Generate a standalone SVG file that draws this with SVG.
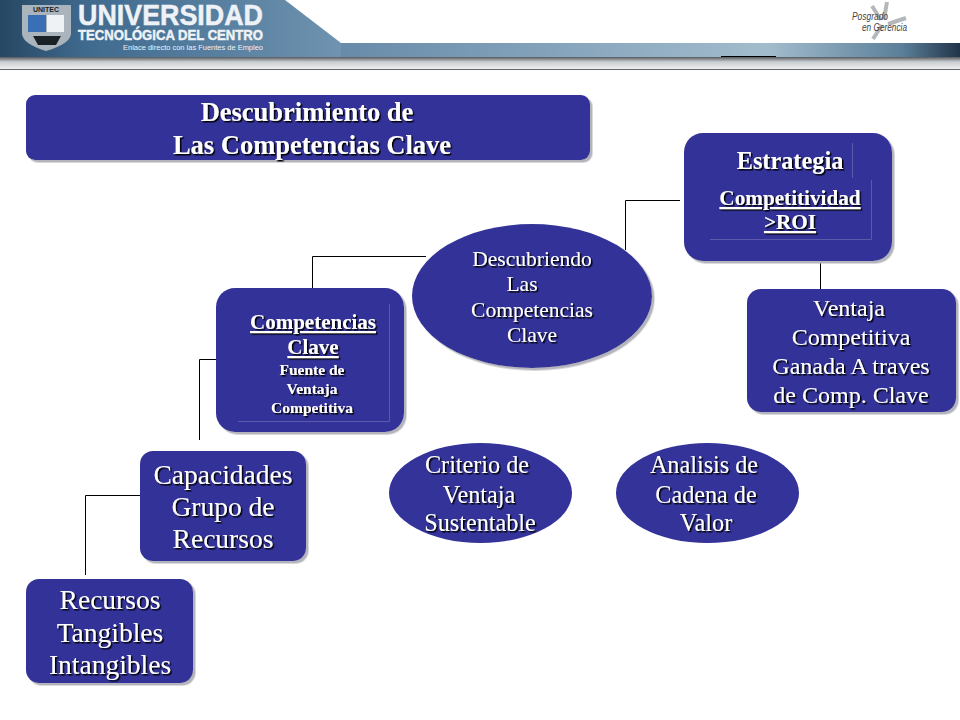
<svg xmlns="http://www.w3.org/2000/svg" width="960" height="720" viewBox="0 0 960 720">
<style>
.n{fill:#333399}
.t{font-family:"Liberation Serif","Times New Roman",serif;fill:#fff;text-anchor:middle;filter:url(#ts)}
.b{font-weight:bold}
.u{text-decoration:underline}
.c{fill:none;stroke:#000;stroke-width:1}
.i{fill:none;stroke:#5a5aa8;stroke-width:1}
.h{font-family:"Liberation Sans",Arial,sans-serif;fill:#eef2f6;font-weight:bold;stroke:#eef2f6;stroke-width:.5}
.p{font-family:"Liberation Sans",Arial,sans-serif;font-size:11px;font-style:italic;fill:#444}
.s{fill:none;stroke:#b4b8bb;stroke-width:4}
</style>
<defs>
<filter id="ds" x="-10%" y="-10%" width="125%" height="125%"><feDropShadow dx="2.500" dy="2.500" stdDeviation="0.700" flood-color="#b4b4bc"/></filter>
<filter id="ts" x="-10%" y="-20%" width="125%" height="150%"><feDropShadow dx="1.500" dy="1.500" stdDeviation="0.100" flood-color="#000"/></filter>
<linearGradient id="band" x1="0" x2="1" y1="0" y2="0">
<stop offset="0" stop-color="#26455f"/><stop offset="0.12" stop-color="#4a7092"/><stop offset="0.4" stop-color="#6d90ad"/><stop offset="0.8" stop-color="#a3bccd"/><stop offset="0.94" stop-color="#5b7f99"/><stop offset="1" stop-color="#203448"/>
</linearGradient>
<linearGradient id="under" x1="0" x2="0" y1="0" y2="1">
<stop offset="0" stop-color="#55585c"/><stop offset="0.4" stop-color="#c9cccf"/><stop offset="1" stop-color="#eef0f1"/>
</linearGradient>
<linearGradient id="head" x1="0" x2="1" y1="0" y2="0">
<stop offset="0" stop-color="#274763"/><stop offset="0.25" stop-color="#3f6a8e"/><stop offset="1" stop-color="#6f93b0"/>
</linearGradient>
</defs>
<rect width="960" height="720" fill="#fff"/>
<g id="header">
<rect x="0" y="57" width="960" height="12" fill="url(#under)"/>
<rect x="0" y="69" width="960" height="1" fill="#60666c"/>
<rect x="0" y="43" width="960" height="14" fill="url(#band)"/>
<path d="M0 0H285L341 43V57H0Z" fill="url(#head)"/>
<rect x="721" y="56" width="55" height="1" fill="#000"/>
<path d="M22 5H71V34Q70 44 46 51Q23 44 22 34Z" fill="#a9b4bd"/>
<rect x="28" y="15" width="18" height="17" fill="#3a6fb5"/><rect x="47" y="15" width="17" height="17" fill="#eef2f5"/>
<path d="M33 36H61L56 45H38Z" fill="#1c2125"/>
<text x="46" y="12" font-family="Liberation Sans,Arial,sans-serif" font-size="7" font-weight="bold" text-anchor="middle" fill="#1c2125">UNITEC</text>
<text class="h" x="78" y="24.500" font-size="29" textLength="185" lengthAdjust="spacingAndGlyphs">UNIVERSIDAD</text>
<text class="h" x="78" y="40" font-size="15" textLength="185" lengthAdjust="spacingAndGlyphs">TECNOLÓGICA DEL CENTRO</text>
<text class="h" style="stroke-width:0;font-weight:normal" x="123" y="50" font-size="7.500" textLength="140" lengthAdjust="spacingAndGlyphs">Enlace directo con las Fuentes de Empleo</text>
<path class="s" d="M887 2L884 19M872 6L881 20M906 18L888 24M873 39L882 25"/>
<text class="p" x="852" y="20" textLength="36" lengthAdjust="spacingAndGlyphs">Posgrado</text>
<text class="p" x="862" y="31" textLength="45" lengthAdjust="spacingAndGlyphs">en Gerencia</text>
</g>
<g id="connectors">
<path class="c" d="M625.500 250V200.500H680"/>
<path class="c" d="M820.500 262V289"/>
<path class="c" d="M312.500 288V256.500H426"/>
<path class="c" d="M216 359.500H199.500V440"/>
<path class="c" d="M140 495.500H85.500V575"/>
</g>
<g id="title">
<rect class="n" x="26" y="95" width="564" height="65" rx="9" filter="url(#ds)"/>
<text class="t b" x="307" y="121" font-size="26.500">Descubrimiento de</text>
<text class="t b" x="312" y="154" font-size="26.500">Las Competencias Clave</text>
</g>
<g id="estrategia">
<rect class="n" x="684" y="133" width="208" height="128" rx="19" filter="url(#ds)"/>
<path class="i" d="M852.500 143V178M871.500 180V239.500H710"/>
<text class="t b" x="790" y="169" font-size="24.300">Estrategia</text>
<text class="t b u" x="790" y="205" font-size="21.200">Competitividad</text>
<text class="t b u" x="790" y="229" font-size="21.200">&gt;ROI</text>
</g>
<g id="ventaja">
<rect class="n" x="747" y="289" width="209" height="123" rx="14" filter="url(#ds)"/>
<text class="t" x="849" y="316" font-size="24">Ventaja</text>
<text class="t" x="851" y="345" font-size="24">Competitiva</text>
<text class="t" x="851" y="374" font-size="24">Ganada A traves</text>
<text class="t" x="851" y="403" font-size="24">de Comp. Clave</text>
</g>
<g id="descubriendo">
<ellipse class="n" cx="532" cy="296" rx="120" ry="72" filter="url(#ds)"/>
<text class="t" x="532" y="266" font-size="21.500">Descubriendo</text>
<text class="t" x="522" y="291" font-size="21.500">Las</text>
<text class="t" x="532" y="317" font-size="21.500">Competencias</text>
<text class="t" x="532" y="342" font-size="21.500">Clave</text>
</g>
<g id="competencias">
<rect class="n" x="216" y="288" width="188" height="144" rx="19" filter="url(#ds)"/>
<path class="i" d="M389.500 304V421.500H238"/>
<text class="t b u" x="313" y="329" font-size="21">Competencias</text>
<text class="t b u" x="313" y="354" font-size="21">Clave</text>
<text class="t b" x="312" y="375" font-size="15.500">Fuente de</text>
<text class="t b" x="312" y="394" font-size="15.500">Ventaja</text>
<text class="t b" x="312" y="413" font-size="15.500">Competitiva</text>
</g>
<g id="capacidades">
<rect class="n" x="140" y="451" width="166" height="110" rx="13" filter="url(#ds)"/>
<text class="t" x="223" y="484" font-size="27.500">Capacidades</text>
<text class="t" x="223" y="516" font-size="27.500">Grupo de</text>
<text class="t" x="223" y="548" font-size="27.500">Recursos</text>
</g>
<g id="recursos">
<rect class="n" x="26" y="579" width="167" height="104" rx="13" filter="url(#ds)"/>
<text class="t" x="110" y="609" font-size="27.500">Recursos</text>
<text class="t" x="110" y="642" font-size="27.500">Tangibles</text>
<text class="t" x="110" y="674" font-size="27.500">Intangibles</text>
</g>
<g id="criterio">
<ellipse class="n" cx="480.500" cy="493" rx="91.500" ry="50"/>
<text class="t" x="477" y="473" font-size="24.200">Criterio de</text>
<text class="t" x="479" y="503" font-size="24.200">Ventaja</text>
<text class="t" x="480" y="531" font-size="24.200">Sustentable</text>
</g>
<g id="analisis">
<ellipse class="n" cx="707.500" cy="493" rx="91.500" ry="50"/>
<text class="t" x="704" y="473" font-size="24.200">Analisis de</text>
<text class="t" x="706" y="503" font-size="24.200">Cadena de</text>
<text class="t" x="706" y="531" font-size="24.200">Valor</text>
</g>
</svg>
